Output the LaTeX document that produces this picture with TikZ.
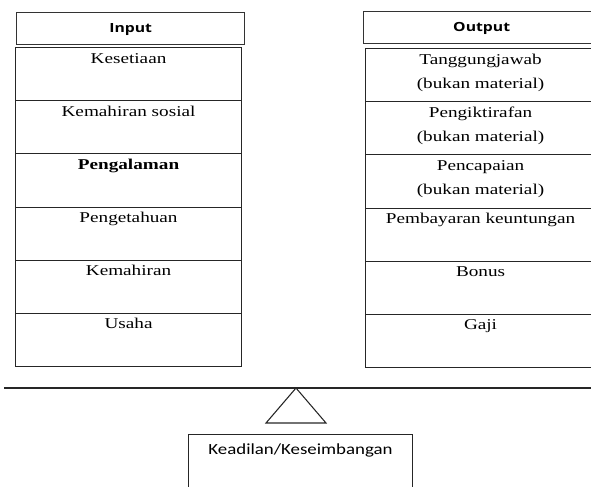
\documentclass[tikz,border=0pt]{standalone}
\usepackage{fontspec}
\setmainfont[FakeStretch=1.28]{Liberation Serif}
\newfontfamily\headfont[FakeStretch=1.25]{Open Sans}
\newfontfamily\balfont[FakeStretch=1.22]{Carlito}
\usetikzlibrary{positioning}

\begin{document}
\begin{tikzpicture}[x=0.75pt,y=-0.75pt]
\tikzset{
  headbox/.style={draw=black!80,line width=1pt,anchor=north west,inner sep=0pt,minimum height=24pt},
  cellbox/.style={draw=black!85,line width=0.8pt,anchor=north west,inner sep=0pt,minimum height=39.9pt},
  inbox/.style={cellbox,minimum width=169.5pt},
  outbox/.style={cellbox,minimum width=172.5pt},
  celltext/.style={anchor=base,align=center,inner sep=0pt,font=\fontsize{11.25}{18}\selectfont},
  twoline/.style={celltext,yshift=-18pt},
  headtext/.style={anchor=base,inner sep=0pt,font=\headfont\bfseries\fontsize{9.45}{11}\selectfont},
  baltext/.style={anchor=base,inner sep=0pt,font=\balfont\fontsize{11.6}{14}\selectfont},
  beam/.style={draw=black!85,line width=0.8pt,line join=miter}
}
\useasboundingbox (0,0) rectangle (591,486);
\clip (0,0) rectangle (591,486);
% headers
\node[headbox,minimum width=171pt] (n_inhead) at (16,12) {};
\node[headbox,minimum width=177pt] (n_outhead) at (363,11) {};
\node[headtext] (t_inhead) at ([yshift=-15pt]n_inhead.north) {Input};
\node[headtext] (t_outhead) at ([yshift=-15.4pt]n_outhead.north) {Output};
% input column
\node[inbox] (n_in1) at (15,47) {};
\node[inbox] (n_in2) at (15,100.2) {};
\node[inbox] (n_in3) at (15,153.3) {};
\node[inbox] (n_in4) at (15,206.5) {};
\node[inbox] (n_in5) at (15,259.7) {};
\node[inbox] (n_in6) at (15,312.8) {};
\node[celltext] (t_in1) at ([yshift=-12pt]n_in1.north) {Kesetiaan};
\node[celltext] (t_in2) at ([yshift=-12pt]n_in2.north) {Kemahiran sosial};
\node[celltext] (t_in3) at ([yshift=-12pt]n_in3.north) {\textbf{Pengalaman}};
\node[celltext] (t_in4) at ([yshift=-12pt]n_in4.north) {Pengetahuan};
\node[celltext] (t_in5) at ([yshift=-12pt]n_in5.north) {Kemahiran};
\node[celltext] (t_in6) at ([yshift=-12pt]n_in6.north) {Usaha};
% output column
\node[outbox] (n_out1) at (365,48) {};
\node[outbox] (n_out2) at (365,101.2) {};
\node[outbox] (n_out3) at (365,154.3) {};
\node[outbox] (n_out4) at (365,207.5) {};
\node[outbox] (n_out5) at (365,260.7) {};
\node[outbox] (n_out6) at (365,313.8) {};
\node[twoline] (t_out1) at ([yshift=-12pt]n_out1.north) {Tanggungjawab\\(bukan material)};
\node[twoline] (t_out2) at ([yshift=-12pt]n_out2.north) {Pengiktirafan\\(bukan material)};
\node[twoline] (t_out3) at ([yshift=-12pt]n_out3.north) {Pencapaian\\(bukan material)};
\node[celltext] (t_out4) at ([yshift=-12pt]n_out4.north) {Pembayaran keuntungan};
\node[celltext] (t_out5) at ([yshift=-12pt]n_out5.north) {Bonus};
\node[celltext] (t_out6) at ([yshift=-12pt]n_out6.north) {Gaji};
% balance
\coordinate (c_left) at (4,388);
\coordinate (c_right) at (595,388);
\coordinate (c_pivot) at (296,388);
\draw[beam] (c_left) -- (c_right);
\draw[beam] (c_pivot) -- (266,423) -- (326,423) -- cycle;
\node[cellbox,minimum width=168pt,minimum height=52pt] (n_bal) at (188,434) {};
\node[baltext] (t_bal) at ([yshift=-15pt]n_bal.north) {Keadilan/Keseimbangan};
\end{tikzpicture}
\end{document}
